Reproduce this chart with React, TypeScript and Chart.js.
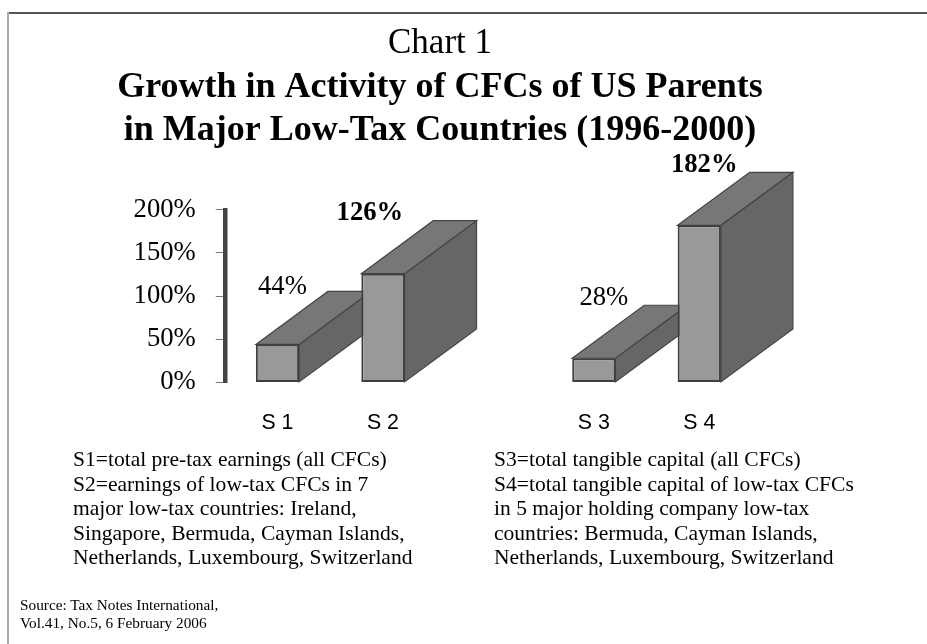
import React, { useEffect, useRef } from "react";
import { Chart, registerables } from "chart.js";

Chart.register(...registerables);

const categories = ["S 1", "S 2", "", "S 3", "S 4"];
const values = [44, 126, null, 28, 182];
const valueLabels = ["44%", "126%", "", "28%", "182%"];
const labelBold = [false, true, false, false, true];
const labelOffsetX = [5, -13, 0, 10, 5];
const labelOffsetY = [-57, -61, 0, -60, -60];
const titleLine = "Chart 1";
const subtitleLines = ["Growth in Activity of CFCs of US Parents", "in Major Low-Tax Countries (1996-2000)"];
const leftNotes = [
  "S1=total pre-tax earnings (all CFCs)",
  "S2=earnings of low-tax CFCs in 7",
  "major low-tax countries: Ireland,",
  "Singapore, Bermuda, Cayman Islands,",
  "Netherlands, Luxembourg, Switzerland",
];
const rightNotes = [
  "S3=total tangible capital (all CFCs)",
  "S4=total tangible capital of low-tax CFCs",
  "in 5 major holding company low-tax",
  "countries: Bermuda, Cayman Islands,",
  "Netherlands, Luxembourg, Switzerland",
];
const sourceLines = ["Source: Tax Notes International,", "Vol.41, No.5, 6 February 2006"];

const SERIF = '"Liberation Serif", "Times New Roman", serif';
const SANS = '"Liberation Sans", Arial, sans-serif';
const DEPTH_X = 72;
const DEPTH_Y = 53;

const poly = (ctx: CanvasRenderingContext2D, pts: number[][], fill: string) => {
  ctx.beginPath();
  pts.forEach((p, i) => (i ? ctx.lineTo(p[0], p[1]) : ctx.moveTo(p[0], p[1])));
  ctx.closePath();
  ctx.fillStyle = fill;
  ctx.fill();
  ctx.strokeStyle = "#444444";
  ctx.lineWidth = 1.2;
  ctx.stroke();
};

const extrude = {
  id: "extrude",
  beforeDatasetsDraw(chart: any) {
    const ctx = chart.ctx;
    const meta = chart.getDatasetMeta(0);
    ctx.save();
    meta.data.forEach((bar: any, i: number) => {
      if (values[i] == null) return;
      const { x, y, base, width } = bar.getProps(["x", "y", "base", "width"], true);
      const l = x - width / 2;
      const r = x + width / 2;
      poly(ctx, [[r, y], [r + DEPTH_X, y - DEPTH_Y], [r + DEPTH_X, base - DEPTH_Y], [r, base]], "#666666");
      poly(ctx, [[l, y], [l + DEPTH_X, y - DEPTH_Y], [r + DEPTH_X, y - DEPTH_Y], [r, y]], "#777777");
    });
    ctx.restore();
  },
  afterDatasetsDraw(chart: any) {
    const ctx = chart.ctx;
    const meta = chart.getDatasetMeta(0);
    ctx.save();
    ctx.textAlign = "center";
    ctx.textBaseline = "middle";
    ctx.fillStyle = "#000";
    meta.data.forEach((bar: any, i: number) => {
      if (values[i] == null) return;
      const { x, y } = bar.getProps(["x", "y"], true);
      ctx.font = `${labelBold[i] ? "bold " : ""}26.67px ${SERIF}`;
      ctx.fillText(valueLabels[i], x + labelOffsetX[i], y + labelOffsetY[i]);
    });
    ctx.restore();
  },
};

const noteStyle = (left: number): React.CSSProperties => ({
  position: "absolute",
  left,
  top: 447,
  font: `21.55px/24.5px ${SERIF}`,
  color: "#000",
  whiteSpace: "nowrap",
});

export default function App() {
  const ref = useRef<HTMLCanvasElement | null>(null);
  useEffect(() => {
    const chart = new Chart(ref.current as HTMLCanvasElement, {
      type: "bar",
      data: {
        labels: categories,
        datasets: [
          {
            data: values,
            backgroundColor: "#999999",
            borderColor: "#3f3f3f",
            borderWidth: 2,
            borderSkipped: false,
            barPercentage: 0.41,
            categoryPercentage: 1,
          },
        ],
      },
      plugins: [extrude],
      options: {
        animation: false,
        responsive: false,
        layout: { padding: { top: 22, left: 100, right: 147, bottom: 188 } },
        plugins: {
          legend: { display: false },
          tooltip: { enabled: false },
          title: {
            display: true,
            text: titleLine,
            color: "#000",
            font: { family: SERIF, size: 35, weight: "normal", lineHeight: 1.24 },
            padding: { top: 0, bottom: 1 },
          },
          subtitle: {
            display: true,
            text: subtitleLines,
            color: "#000",
            font: { family: SERIF, size: 36, weight: "bold", lineHeight: 1.2 },
            padding: { top: 0, bottom: 57 },
          },
        },
        scales: {
          x: {
            grid: { display: false },
            border: { display: false },
            ticks: { color: "#000", font: { family: SANS, size: 21.33 }, padding: 20, maxRotation: 0, autoSkip: false },
          },
          y: {
            min: 0,
            max: 200,
            afterFit: (s: any) => {
              s.width = 124.75;
            },
            grid: { drawOnChartArea: false, drawTicks: true, tickLength: 9, tickColor: "#777777", tickWidth: 1 },
            border: { display: true, color: "#444444", width: 4.5 },
            ticks: {
              stepSize: 50,
              autoSkip: false,
              color: "#000",
              padding: 20,
              font: { family: SERIF, size: 26.67 },
              callback: (v: any) => `${v}%`,
            },
          },
          spacer: {
            position: "right",
            display: true,
            afterFit: (s: any) => {
              s.width = 28;
            },
            grid: { display: false },
            border: { display: false },
            ticks: { display: false },
          },
        },
      } as any,
    });
    return () => chart.destroy();
  }, []);
  return (
    <div style={{ position: "fixed", left: 0, top: 0, width: 927, height: 644, background: "#fff", overflow: "hidden" }}>
      <canvas ref={ref} width={927} height={644} style={{ position: "absolute", left: 0, top: 0, width: 927, height: 644 }} />
      <div style={{ position: "absolute", left: 7, top: 12, right: 0, height: 2, background: "#555" }} />
      <div style={{ position: "absolute", left: 7, top: 12, bottom: 0, width: 2, background: "#aaa" }} />
      <div style={noteStyle(73)}>{leftNotes.map((t) => <div key={t}>{t}</div>)}</div>
      <div style={noteStyle(494)}>{rightNotes.map((t) => <div key={t}>{t}</div>)}</div>
      <div style={{ position: "absolute", left: 20, top: 596, font: `15.3px/18px ${SERIF}`, color: "#000", whiteSpace: "nowrap" }}>
        {sourceLines.map((t) => <div key={t}>{t}</div>)}
      </div>
    </div>
  );
}
